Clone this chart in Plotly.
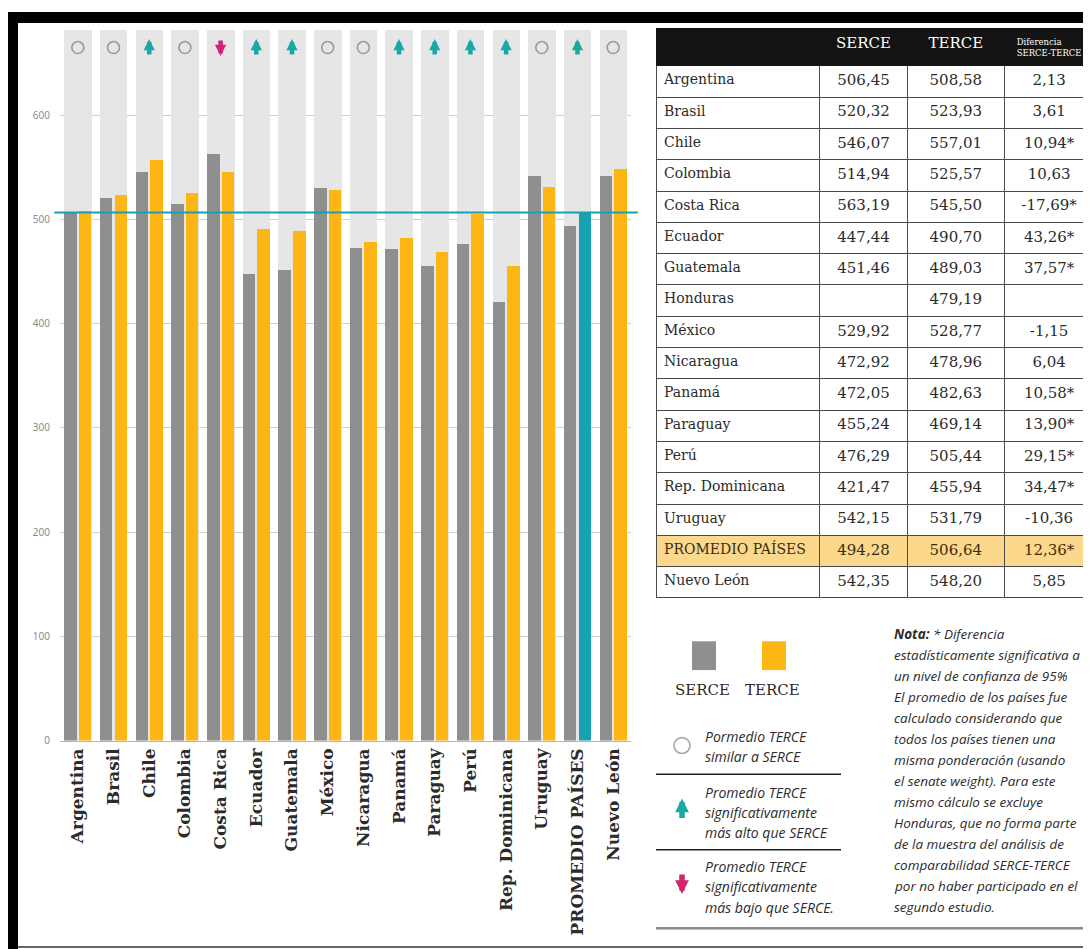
import plotly.graph_objects as go

W, H = 1091, 949

# ─── Data ──────────────────────────────────────────────────────────────────────
PAISES = ["Argentina", "Brasil", "Chile", "Colombia", "Costa Rica", "Ecuador",
          "Guatemala", "Honduras", "México", "Nicaragua", "Panamá", "Paraguay",
          "Perú", "Rep. Dominicana", "Uruguay", "PROMEDIO PAÍSES", "Nuevo León"]
SERCE = [506.45, 520.32, 546.07, 514.94, 563.19, 447.44, 451.46, None, 529.92,
         472.92, 472.05, 455.24, 476.29, 421.47, 542.15, 494.28, 542.35]
TERCE = [508.58, 523.93, 557.01, 525.57, 545.50, 490.70, 489.03, 479.19, 528.77,
         478.96, 482.63, 469.14, 505.44, 455.94, 531.79, 506.64, 548.20]
DIFERENCIA = [2.13, 3.61, 10.94, 10.63, -17.69, 43.26, 37.57, None, -1.15,
              6.04, 10.58, 13.90, 29.15, 34.47, -10.36, 12.36, 5.85]
SIGNIFICATIVA = [False, False, True, False, True, True, True, False, False,
                 False, True, True, True, True, False, True, False]
PROMEDIO = "PROMEDIO PAÍSES"
Y_TICKS = [0, 100, 200, 300, 400, 500, 600]
Y_MAX = 682
ICON_Y = 665

NOTA = [
    "<b>Nota:</b> * Diferencia",
    "estadísticamente significativa a",
    "un nivel de confianza de 95%",
    "El promedio de los países fue",
    "calculado considerando que",
    "todos los países tienen una",
    "misma ponderación (usando",
    "el senate weight). Para este",
    "mismo cálculo se excluye",
    "Honduras, que no forma parte",
    "de la muestra del análisis de",
    "comparabilidad SERCE-TERCE",
    "por no haber participado en el",
    "segundo estudio.",
]
LEYENDA = [
    ["Pormedio TERCE", "similar a SERCE"],
    ["Promedio TERCE", "significativamente", "más alto que SERCE"],
    ["Promedio TERCE", "significativamente", "más bajo que SERCE."],
]

# ─── Colours ───────────────────────────────────────────────────────────────────
GRAY = "#8f8f8f"
ORANGE = "#fdb614"
TEAL = "#16a2b3"
COL_BG = "#e6e6e6"
UP = "#1aa8a4"
DOWN = "#d3246f"
TEXT = "#2b2b2b"
SERIF = "DejaVu Serif"
SANS = "Open Sans"


def px(x, y):
    return x / W, 1 - y / H


def fmt(v):
    return "" if v is None else f"{v:.2f}".replace(".", ",")


def note(x, y, text, size=13.5, family=SANS, anchor="left"):
    a, b = px(x, y)
    return dict(x=a, y=b, xref="paper", yref="paper", xanchor=anchor, yanchor="middle",
                text=text, showarrow=False, font=dict(family=family, size=size, color=TEXT))


def arrow(x, y, col, sign, xref, yref, width=4.5, size=0.5, length=17):
    # filled arrow pointing up (sign=1) or down (sign=-1), centred on (x, y)
    return dict(x=x, y=y, xref=xref, yref=yref, text="", showarrow=True,
                arrowhead=2, arrowsize=size, arrowwidth=width, arrowcolor=col,
                ax=0, ay=length * sign, yshift=length / 2 * sign, standoff=0)


# chart excludes countries without SERCE score
idx = [i for i, s in enumerate(SERCE) if s is not None]
cats = [PAISES[i] for i in idx]
serce = [SERCE[i] for i in idx]
terce = [TERCE[i] for i in idx]
terce_cols = [TEAL if c == PROMEDIO else ORANGE for c in cats]
status = []
for i in idx:
    if SIGNIFICATIVA[i] and DIFERENCIA[i] > 0:
        status.append("up")
    elif SIGNIFICATIVA[i] and DIFERENCIA[i] < 0:
        status.append("down")
    else:
        status.append("same")

fig = go.Figure()
fig.add_trace(go.Bar(x=cats, y=[Y_MAX] * len(cats), offset=-0.38, width=0.77,
                     marker=dict(color=COL_BG, line_width=0), hoverinfo="skip"))
fig.add_trace(go.Bar(x=cats, y=serce, name="SERCE", offset=-0.38, width=0.35,
                     marker=dict(color=GRAY, line_width=0)))
fig.add_trace(go.Bar(x=cats, y=terce, name="TERCE", offset=0.03, width=0.35,
                     marker=dict(color=terce_cols, line_width=0)))

same = [c for c, s in zip(cats, status) if s == "same"]
fig.add_trace(go.Scatter(x=same, y=[ICON_Y] * len(same), mode="markers",
                         cliponaxis=False,
                         marker=dict(symbol="circle-open", size=12, color="#9a9a9a",
                                     line=dict(width=1.6, color="#9a9a9a"))))

annotations = []
for c, s in zip(cats, status):
    if s != "same":
        annotations.append(arrow(c, ICON_Y, UP if s == "up" else DOWN,
                                 1 if s == "up" else -1, "x", "y"))

fig.add_shape(type="line", xref="x domain", yref="y", x0=-0.01, x1=1.012,
              y0=TERCE[PAISES.index(PROMEDIO)], y1=TERCE[PAISES.index(PROMEDIO)],
              line=dict(color=TEAL, width=2))

# ─── Table ─────────────────────────────────────────────────────────────────────
row_fill = ["#fbd88b" if p == PROMEDIO else "white" for p in PAISES]
row_font = ["#3b2c10" if p == PROMEDIO else TEXT for p in PAISES]
first_col = [p.replace(" ", "\u00a0") if p == PROMEDIO else p for p in PAISES]
dif_txt = [fmt(d) + ("*" if s else "") for d, s in zip(DIFERENCIA, SIGNIFICATIVA)]
fig.add_trace(go.Table(
    domain=dict(x=[648 / W, 1087 / W], y=[0.3, 1 - 21 / H]),
    columnwidth=[164, 88, 97, 90],
    header=dict(values=["", "SERCE", "TERCE", "Diferencia<br>SERCE-TERCE"],
                fill_color="#141414", line=dict(color="#141414", width=1),
                align="center", height=34,
                font=dict(family=SERIF, color="white", size=[15, 15, 15, 8.5])),
    cells=dict(values=[first_col, [fmt(v) for v in SERCE], [fmt(v) for v in TERCE], dif_txt],
               fill_color=[row_fill] * 4, line=dict(color="#4a4a4a", width=1),
               align=["left", "center", "center", "center"], height=31.3,
               font=dict(family=SERIF, size=[14, 15, 15, 15], color=[row_font] * 4)),
))

# ─── Legend / notes (right panel) ──────────────────────────────────────────────
shapes = []
for x0, col in [(684, GRAY), (754, ORANGE)]:
    a, b = px(x0, 638)
    c, d = px(x0 + 24, 667)
    shapes.append(dict(type="rect", xref="paper", yref="paper", x0=a, y0=d, x1=c, y1=b,
                       fillcolor=col, line_width=0))
for x, lab in [(694, "SERCE"), (764, "TERCE")]:
    annotations.append(note(x, 687, lab, size=15, family=SERIF, anchor="center"))

a, b = px(666, 735)
c, d = px(682, 751)
shapes.append(dict(type="circle", xref="paper", yref="paper", x0=a, y0=d, x1=c, y1=b,
                   line=dict(color="#a8a8a8", width=1.6)))
for yy, col, sign in [(807, UP, 1), (882, DOWN, -1)]:
    a, b = px(674, yy)
    annotations.append(arrow(a, b, col, sign, "paper", "paper", width=5.5, size=0.5,
                             length=21))

for lines, y0 in zip(LEYENDA, [734, 790, 865]):
    for k, t in enumerate(lines):
        annotations.append(note(695, y0 + 20.5 * k, f"<i>{t}</i>", size=14))
for yy in [772, 848]:
    a, b = px(648, yy)
    c, _ = px(833, yy)
    shapes.append(dict(type="line", xref="paper", yref="paper", x0=a, x1=c, y0=b, y1=b,
                       line=dict(color="#222", width=1.5)))

for k, t in enumerate(NOTA):
    annotations.append(note(884, 631 + 21.1 * k, f"<i>{t}</i>"))

# frame
a, b = px(648, 927)
c, _ = px(1087, 927)
shapes.append(dict(type="line", xref="paper", yref="paper", x0=a, x1=c, y0=b, y1=b,
                   line=dict(color="#8a8a8a", width=2.5)))
shapes.append(dict(type="line", xref="paper", yref="paper", x0=10 / W, x1=1, y0=1 - 946 / H,
                   y1=1 - 946 / H, line=dict(color="#666", width=2)))
shapes.append(dict(type="rect", xref="paper", yref="paper", x0=0, x1=1, y0=1 - 15 / H,
                   y1=1 - 4 / H, fillcolor="black", line_width=0))
shapes.append(dict(type="rect", xref="paper", yref="paper", x0=0, x1=10 / W, y0=0,
                   y1=1 - 4 / H, fillcolor="black", line_width=0))

for s in shapes:
    fig.add_shape(**s)

fig.update_layout(
    width=W, height=H, margin=dict(l=0, r=0, t=0, b=0),
    paper_bgcolor="white", plot_bgcolor="white",
    barmode="overlay", showlegend=False, bargap=0,
    annotations=annotations,
    xaxis=dict(domain=[52 / W, 623 / W], type="category", range=[-0.5, len(cats) - 0.5],
               tickangle=-90, showline=True, linecolor="#b5b5b5", linewidth=1, ticks="",
               tickfont=dict(family=SERIF, size=17, color=TEXT, weight="bold")),
    yaxis=dict(domain=[1 - 738 / H, 1 - 22 / H], range=[0, Y_MAX], tickvals=Y_TICKS,
               showgrid=True, gridcolor="#cfcfcf", gridwidth=1, zeroline=False,
               ticklabelstandoff=9,
               tickfont=dict(family="Noto Sans", size=10, color="#8a8a8a")),
)

fig.write_html("out.html")
